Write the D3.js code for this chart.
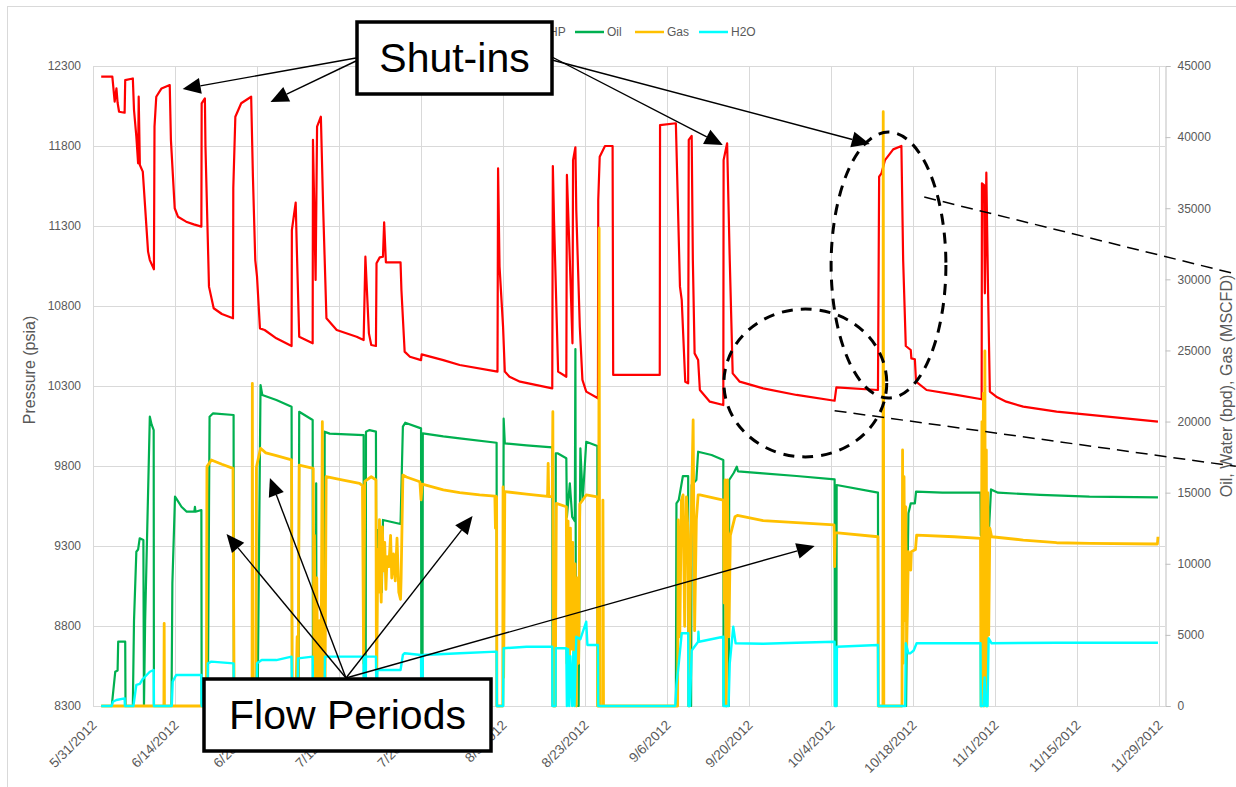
<!DOCTYPE html>
<html>
<head>
<meta charset="utf-8">
<script src="https://cdn.jsdelivr.net/npm/d3@7"></script>
<style>
  body { margin: 0; background: #ffffff; }
  text { font-family: "Liberation Sans", Arial, sans-serif; }
</style>
</head>
<body>
<div id="chart"></div>
<script>
// Chart data: day offsets from 5/31/2012 paired with readings
var startDate = Date.UTC(2012, 4, 31);
var endDate = Date.UTC(2012, 10, 30);

var tickLabels = ["5/31/2012", "6/14/2012", "6/28/2012", "7/12/2012", "7/26/2012", "8/9/2012", "8/23/2012",
    "9/6/2012", "9/20/2012", "10/4/2012", "10/18/2012", "11/1/2012", "11/15/2012", "11/29/2012"];
var pressureTicks = [8300, 8800, 9300, 9800, 10300, 10800, 11300, 11800, 12300];
var rateTicks = [0, 5000, 10000, 15000, 20000, 25000, 30000, 35000, 40000, 45000];

// BHP (psia)
var bhpPoints = [
    [1.4,12233],[3.3,12233],[3.7,12077],[4.0,12160],[4.2,12070],[4.45,12014],[5.4,12008],[5.5,12212],[6.8,12222],
    [7.0,12025],[7.4,11858],[7.7,11692],[7.8,12108],[8.0,11681],[8.5,11640],[9.4,11140],[9.7,11087],[10.4,11029],
    [10.5,11921],[10.8,12108],[11.7,12160],[13.1,12181],[13.3,11838],[13.95,11411],[14.5,11358],[15.9,11327],
    [17.2,11310],[18.5,11296],[18.55,12067],[19.1,12098],[19.2,11796],[19.8,10921],[20.6,10786],[22.0,10750],
    [23.9,10723],[23.95,11536],[24.3,11983],[25.3,12067],[27.0,12108],[27.3,11608],[27.7,11087],[28.0,10983],
    [28.5,10660],[29.3,10650],[31.3,10598],[33.9,10550],[33.95,11275],[34.6,11446],[34.8,11150],[35.2,10608],
    [37.5,10567],[37.55,11838],[38.0,10963],[38.25,11921],[38.9,11983],[39.3,11400],[39.85,10723],[41.6,10650],
    [45.0,10608],[46.2,10587],[46.5,11108],[47.1,10629],[47.5,10556],[48.3,10550],[48.4,11067],[48.95,11104],
    [49.5,11108],[49.7,11323],[50.0,11073],[52.5,11073],[52.65,10900],[53.2,10515],[54.1,10483],[56.0,10462],
    [56.1,10498],[59.8,10462],[62.6,10431],[69.05,10390],[69.15,11660],[69.4,11046],[70.0,10671],[70.3,10390],
    [71.1,10358],[72.9,10327],[78.4,10285],[78.5,11675],[78.7,11337],[79.4,10390],[80.8,10358],[80.9,11619],
    [81.4,11087],[81.85,10567],[81.95,11712],[82.35,11792],[82.5,11400],[83.1,10671],[83.55,10338],[84.2,10265],
    [86.2,10223],[86.25,11463],[86.5,11733],[87.4,11800],[88.7,11800],[88.8,10369],[96.75,10369],[96.8,11931],
    [99.5,11942],[100.2,10921],[100.5,10838],[101.1,10327],[101.6,10317],[101.7,11838],[102.2,11863],[102.4,11087],
    [102.7,10504],[103.3,10463],[103.6,10275],[105.3,10202],[107.6,10181],[107.65,11712],[108.25,11817],
    [108.7,11087],[109.2,10379],[110.4,10327],[114.4,10285],[120.1,10244],[126.6,10208],[126.9,10292],
    [134.0,10275],[134.2,11608],[134.6,11629],[135.2,11712],[136.6,11779],[138.0,11800],[138.3,11087],
    [138.75,10550],[139.6,10525],[139.7,10473],[140.3,10467],[140.5,10327],[142.3,10275],[147.4,10244],
    [151.7,10217],[151.75,11567],[152.1,11556],[152.25,10879],[152.5,11633],[152.8,10879],[153.1,10265],
    [154.2,10233],[155.9,10202],[158.8,10171],[164.5,10140],[170.2,10119],[181.8,10077]
];

// Oil (bpd)
var oilPoints = [
    [1.4,0],[3.2,0],[3.8,2410],[4.2,2500],[4.3,4520],[5.5,4520],[5.55,0],[6.8,0],[7.0,6000],[7.4,10850],
    [7.7,11000],[7.97,11790],[8.6,11670],[8.7,0],[8.9,6000],[9.7,20340],[10.0,19800],[10.36,19400],[10.4,0],
    [13.4,0],[13.55,8630],[14.0,14720],[14.5,14400],[15.1,14010],[16.0,13660],[17.3,13660],[17.4,14000],
    [17.5,13660],[18.5,13780],[18.55,0],[19.6,0],[19.9,20340],[20.5,20580],[24.0,20460],[24.05,0],[28.1,0],
    [28.6,22570],[28.9,21870],[31.3,21510],[33.9,21040],[34.0,0],[35.1,0],[35.2,20690],[37.5,20110],[37.55,0],
    [38.05,0],[38.1,15660],[38.15,0],[39.5,0],[39.55,19290],[40.4,19150],[46.2,19050],[46.25,0],[46.55,0],
    [46.6,19290],[47.2,19400],[48.3,19290],[48.4,0],[48.55,12370],[49.1,12370],[49.3,8000],[49.5,13080],
    [52.5,12800],[52.9,19640],[53.3,19920],[56.0,19520],[56.05,0],[56.25,0],[56.3,19170],[59.8,18960],
    [62.6,18820],[68.9,18510],[68.95,0],[70.0,0],[70.1,20200],[70.3,18470],[74.0,18330],[78.4,18190],[78.45,0],
    [78.95,0],[79.0,17770],[79.3,17770],[80.8,17420],[80.9,13300],[81.4,15660],[81.8,13300],[82.25,13000],
    [82.35,25100],[82.45,0],[82.9,0],[83.2,18120],[83.6,14480],[84.2,18580],[86.1,18280],[86.15,0],[99.5,0],
    [99.6,14250],[100.0,14500],[100.7,16170],[101.6,16170],[101.65,0],[102.1,0],[102.2,15540],[103.0,15890],
    [103.3,17880],[105.6,17650],[107.6,17300],[107.65,0],[108.55,0],[108.6,15890],[109.4,16400],[109.9,16830],
    [110.1,16500],[114.4,16360],[120.1,16170],[126.6,15940],[126.65,0],[126.9,0],[126.95,15540],[134.0,15000],
    [134.05,0],[138.8,0],[139.0,8000],[139.2,13550],[139.6,14250],[140.3,14250],[140.5,15070],[145.0,15000],
    [151.5,15000],[151.55,12000],[152.9,12000],[153.3,15230],[154.5,15000],[161.7,14840],[170.1,14720],
    [181.8,14670]
];

// Gas (MSCFD)
var gasPoints = [
    [1.4,0],[12.1,0],[12.15,5810],[12.2,0],[19.35,0],[19.45,16830],[20.2,17300],[22.0,17000],[23.9,16710],
    [24.0,8000],[24.1,0],[27.15,0],[27.2,22690],[27.3,0],[27.8,0],[27.9,16800],[28.6,18120],[29.5,17800],
    [31.3,17600],[33.9,17300],[34.0,0],[34.6,0],[34.85,4870],[35.0,0],[35.2,16940],[37.6,16710],[37.7,3000],
    [37.8,12000],[38.0,1000],[38.2,9000],[38.4,0],[38.7,6000],[38.9,0],[39.15,19990],[39.3,2000],[39.6,0],
    [39.8,16120],[42.7,15890],[45.5,15660],[46.0,15500],[46.2,3000],[46.4,15800],[47.5,16120],[48.3,15900],
    [48.4,0],[48.6,11000],[48.8,8000],[48.9,13100],[49.1,9000],[49.2,7300],[49.4,12600],[49.6,9500],[49.8,11500],
    [50.0,8200],[50.2,10500],[50.5,9800],[50.8,12000],[51.0,9000],[51.3,10700],[51.6,8800],[51.9,11800],
    [52.2,8000],[52.5,7500],[52.6,9000],[52.9,16240],[53.5,16100],[55.8,15770],[56.0,14500],[56.2,15600],
    [59.8,15190],[62.6,15000],[66.0,14850],[68.6,14760],[68.7,12500],[68.8,14760],[68.9,14700],[68.95,0],
    [69.95,0],[70.0,15400],[70.1,2000],[70.3,15070],[74.0,14900],[77.6,14740],[77.7,17060],[77.8,14730],
    [78.4,14720],[78.5,20690],[78.6,0],[78.9,0],[79.1,14250],[80.8,14010],[80.9,3000],[81.1,13000],[81.3,1000],
    [81.5,12500],[81.7,4000],[81.9,11500],[82.1,2000],[82.3,10000],[82.5,0],[82.7,9000],[82.9,3000],[83.1,14200],
    [84.2,14840],[86.1,14700],[86.15,0],[86.3,0],[86.4,33600],[86.5,0],[87.0,0],[87.05,14480],[87.15,0],
    [99.8,0],[99.9,13080],[100.17,4870],[100.45,14480],[100.73,14840],[101.0,5600],[101.3,14700],[101.6,12000],
    [101.75,0],[102.0,9560],[102.2,14700],[102.45,20110],[102.7,5300],[103.0,13100],[103.3,14840],[103.6,14840],
    [107.6,14480],[107.75,7240],[107.9,15890],[108.1,0],[108.3,15890],[108.55,4870],[108.8,12000],[109.6,13310],
    [110.0,13400],[114.4,13030],[120.1,12890],[126.5,12730],[126.6,9800],[126.7,12190],[134.0,11900],[134.05,0],
    [134.85,0],[134.9,41790],[135.0,0],[138.1,0],[138.2,18000],[138.3,3000],[138.45,16120],[138.6,6000],
    [138.75,14000],[138.9,4000],[139.2,10850],[139.6,9560],[139.7,10850],[140.4,11000],[140.6,12020],
    [147.0,11900],[151.5,11790],[151.6,0],[151.75,20000],[151.85,2000],[152.0,22000],[152.1,0],[152.25,24960],
    [152.35,3000],[152.5,18000],[152.6,0],[152.75,15000],[152.9,5000],[153.1,12500],[153.4,11900],[158.8,11670],
    [164.5,11480],[170.2,11430],[181.7,11390],[181.8,11900]
];

// H2O (bpd)
var h2oPoints = [
    [1.4,0],[3.2,0],[3.4,300],[4.0,420],[5.4,540],[5.45,0],[6.9,0],[7.2,900],[7.4,1480],[8.0,1550],[8.5,1900],
    [9.7,2410],[10.36,2530],[10.4,0],[13.45,0],[13.6,1710],[14.2,2180],[18.5,2180],[18.55,0],[19.55,0],
    [19.6,3000],[20.2,3120],[24.0,3000],[24.05,0],[27.9,0],[28.0,3000],[28.8,3230],[31.3,3230],[33.9,3470],
    [34.0,0],[34.9,0],[35.0,3350],[37.5,3470],[37.55,0],[39.5,0],[39.6,3470],[46.2,3470],[46.25,0],[46.55,0],
    [46.6,3470],[48.3,3470],[48.4,0],[48.55,2530],[52.5,2530],[52.9,3590],[53.2,3710],[56.0,3590],[56.05,0],
    [56.25,0],[56.3,3590],[62.6,3710],[68.9,3820],[68.95,0],[70.0,0],[70.1,4060],[74.0,4170],[78.4,4170],
    [78.45,0],[78.95,0],[79.0,4060],[80.8,4060],[80.9,0],[81.1,4000],[81.3,0],[81.5,3500],[81.8,0],[82.0,3800],
    [82.2,0],[82.5,4870],[83.2,4700],[84.2,5930],[84.4,4290],[86.2,4290],[86.25,0],[99.4,0],[99.6,1500],
    [100.0,3000],[100.5,5110],[101.6,5110],[101.65,0],[101.9,0],[102.2,3900],[103.3,4520],[103.35,5220],
    [103.45,4520],[107.6,4870],[107.65,0],[108.5,0],[108.7,3000],[109.3,5580],[109.7,4410],[114.4,4380],
    [120.1,4450],[126.6,4520],[126.65,0],[126.9,0],[127.0,4170],[134.0,4290],[134.05,0],[138.65,0],[138.75,4410],
    [139.2,3700],[139.5,3700],[140.1,3900],[140.6,4410],[151.5,4410],[151.55,0],[152.0,0],[152.2,2000],[152.4,0],
    [152.7,0],[152.9,4760],[153.4,4410],[164.5,4450],[181.8,4450]
];

var seriesNames = ["BHP", "Oil", "Gas", "H2O"];
var seriesColors = ["#ff0000", "#00b050", "#ffc000", "#00ffff"];

// Callout targets in chart units: [day, psia]
var shutInTargets = [[15.3, 12156], [30.3, 12075], [107.5, 11806], [132.6, 11812]];
var flowTargets = [[22.8, 9375], [30.2, 9725], [64.8, 9488], [123.2, 9300]];

// Set svg dimensions
var svgWidth = 1236;
var svgHeight = 787;

var margin = {
    top: 66,
    left: 93
};
var width = 1072;
var height = 640;

var svg = d3.select("#chart")
    .append("svg")
    .attr("width", svgWidth)
    .attr("height", svgHeight);

// chart border
svg.append("rect")
    .attr("x", 7.5)
    .attr("y", 6.5)
    .attr("width", 1300)
    .attr("height", 900)
    .attr("fill", "none")
    .attr("stroke", "#d9d9d9");

var chartGroup = svg.append("g")
    .attr("transform", `translate(${margin.left}, ${margin.top})`);

function toDate(day) {
    return new Date(startDate + day * 86400000);
}

var xTimeScale = d3.scaleUtc()
    .domain([new Date(startDate), new Date(endDate)])
    .range([0, width]);

var yLeftScale = d3.scaleLinear()
    .domain([8300, 12300])
    .range([height, 0]);

var yRightScale = d3.scaleLinear()
    .domain([0, 45000])
    .range([height, 0]);

var parseTick = d3.utcParse("%m/%d/%Y");
var tickDates = tickLabels.map(parseTick);

// gridlines
chartGroup.append("g")
    .selectAll("line")
    .data(pressureTicks)
    .enter()
    .append("line")
    .attr("x1", 0)
    .attr("x2", width)
    .attr("y1", d => Math.round(yLeftScale(d)) + 0.5)
    .attr("y2", d => Math.round(yLeftScale(d)) + 0.5)
    .attr("stroke", "#d9d9d9");

chartGroup.append("g")
    .selectAll("line")
    .data(tickDates)
    .enter()
    .append("line")
    .attr("x1", d => Math.round(xTimeScale(d)) + 0.5)
    .attr("x2", d => Math.round(xTimeScale(d)) + 0.5)
    .attr("y1", 0)
    .attr("y2", height)
    .attr("stroke", "#d9d9d9");

// left axis
var leftAxis = chartGroup.append("g")
    .call(d3.axisLeft(yLeftScale).tickValues(pressureTicks).tickFormat(d3.format("d")).tickSize(0).tickPadding(12));
leftAxis.select(".domain").remove();

// right axis
var rightAxis = chartGroup.append("g")
    .attr("transform", `translate(${width + 0.5}, 0)`)
    .call(d3.axisRight(yRightScale).tickValues(rateTicks).tickFormat(d3.format("d")).tickSize(5).tickPadding(7));

// bottom axis
var bottomAxis = chartGroup.append("g")
    .attr("transform", `translate(0, ${height})`)
    .call(d3.axisBottom(xTimeScale).tickValues(tickDates).tickSize(0).tickFormat(d3.utcFormat("%-m/%-d/%Y")));
bottomAxis.select(".domain").remove();

[leftAxis, rightAxis, bottomAxis].forEach(function(axis) {
    axis.selectAll("text")
        .attr("fill", "#595959")
        .attr("font-size", "12px")
        .attr("font-family", "Liberation Sans, Arial, sans-serif");
    axis.selectAll("line").attr("stroke", "#bfbfbf");
    axis.select(".domain").attr("stroke", "#bfbfbf");
});

bottomAxis.selectAll("text")
    .attr("x", 0)
    .attr("y", 0)
    .attr("dy", 0)
    .attr("font-size", "13.5px")
    .attr("text-anchor", "end")
    .attr("transform", "translate(4, 20) rotate(-45)");

// axis titles
svg.append("text")
    .attr("transform", "translate(35, 370) rotate(-90)")
    .attr("text-anchor", "middle")
    .attr("fill", "#595959")
    .attr("font-size", "16px")
    .text("Pressure (psia)");

svg.append("text")
    .attr("transform", "translate(1232, 386) rotate(-90)")
    .attr("text-anchor", "middle")
    .attr("fill", "#595959")
    .attr("font-size", "16px")
    .text("Oil, Water (bpd), Gas (MSCFD)");

// series lines
var leftLine = d3.line()
    .x(d => xTimeScale(toDate(d[0])))
    .y(d => yLeftScale(d[1]));

var rightLine = d3.line()
    .x(d => xTimeScale(toDate(d[0])))
    .y(d => yRightScale(d[1]));

chartGroup.append("path")
    .datum(bhpPoints)
    .attr("d", leftLine)
    .attr("fill", "none")
    .attr("stroke", seriesColors[0])
    .attr("stroke-width", 2.2)
    .attr("stroke-linejoin", "round");

[[oilPoints, 1, 2.2], [gasPoints, 2, 2.8], [h2oPoints, 3, 2.4]].forEach(function(s) {
    chartGroup.append("path")
        .datum(s[0])
        .attr("d", rightLine)
        .attr("fill", "none")
        .attr("stroke", seriesColors[s[1]])
        .attr("stroke-width", s[2])
        .attr("stroke-linejoin", "round");
});

// legend
var legendX = [509, 575, 635, 699];
var legend = svg.append("g");
seriesNames.forEach(function(name, i) {
    legend.append("line")
        .attr("x1", legendX[i])
        .attr("x2", legendX[i] + 29)
        .attr("y1", 32)
        .attr("y2", 32)
        .attr("stroke", seriesColors[i])
        .attr("stroke-width", 2.5);
    legend.append("text")
        .attr("x", legendX[i] + 32)
        .attr("y", 36)
        .attr("fill", "#595959")
        .attr("font-size", "12px")
        .text(name);
});

// annotation layer
var notes = svg.append("g");

function drawArrow(x1, y1, x2, y2) {
    var ang = Math.atan2(y2 - y1, x2 - x1);
    var len = 18;
    var half = 8;
    var bx = x2 - len * Math.cos(ang);
    var by = y2 - len * Math.sin(ang);
    notes.append("line")
        .attr("x1", x1)
        .attr("y1", y1)
        .attr("x2", bx)
        .attr("y2", by)
        .attr("stroke", "#000")
        .attr("stroke-width", 1.4);
    notes.append("polygon")
        .attr("points", [
            [x2, y2],
            [bx + half * Math.sin(ang), by - half * Math.cos(ang)],
            [bx - half * Math.sin(ang), by + half * Math.cos(ang)]
        ].map(p => p.join(",")).join(" "))
        .attr("fill", "#000");
}

function px(t) {
    return [margin.left + xTimeScale(toDate(t[0])), margin.top + yLeftScale(t[1])];
}

// dashed ellipses and guide lines (chart units)
var ellipses = [[135.8, 11056, 9.8, 831], [121.6, 10319, 13.9, 462]];
ellipses.forEach(function(e) {
    var c = px([e[0], e[1]]);
    var edge = px([e[0] + e[2], e[1] + e[3]]);
    notes.append("ellipse")
        .attr("cx", c[0])
        .attr("cy", c[1])
        .attr("rx", edge[0] - c[0])
        .attr("ry", c[1] - edge[1])
        .attr("fill", "none")
        .attr("stroke", "#000")
        .attr("stroke-width", 3)
        .attr("stroke-dasharray", "11,8");
});

var guides = [[[141.9, 11481], [195.1, 11000]], [[126.6, 10146], [195.1, 9798]]];
guides.forEach(function(g) {
    var a = px(g[0]);
    var b = px(g[1]);
    notes.append("line")
        .attr("x1", a[0])
        .attr("y1", a[1])
        .attr("x2", b[0])
        .attr("y2", b[1])
        .attr("stroke", "#000")
        .attr("stroke-width", 1.5)
        .attr("stroke-dasharray", "12,7");
});

// arrows
var shutStarts = [[356, 58], [356, 61], [552, 57], [552, 60]];
shutInTargets.forEach(function(t, i) {
    var p = px(t);
    drawArrow(shutStarts[i][0], shutStarts[i][1], p[0], p[1]);
});
flowTargets.forEach(function(t) {
    var p = px(t);
    drawArrow(346, 678, p[0], p[1]);
});

// callout boxes
function drawBox(x, y, w, h, label) {
    notes.append("rect")
        .attr("x", x)
        .attr("y", y)
        .attr("width", w)
        .attr("height", h)
        .attr("fill", "#fff")
        .attr("stroke", "#000")
        .attr("stroke-width", 3.5);
    notes.append("text")
        .attr("x", x + w / 2)
        .attr("y", y + h / 2 + 14)
        .attr("text-anchor", "middle")
        .attr("font-size", "41px")
        .attr("fill", "#000")
        .text(label);
}

drawBox(357, 22, 195, 72, "Shut-ins");
drawBox(204, 679, 287, 72, "Flow Periods");
</script>
</body>
</html>
